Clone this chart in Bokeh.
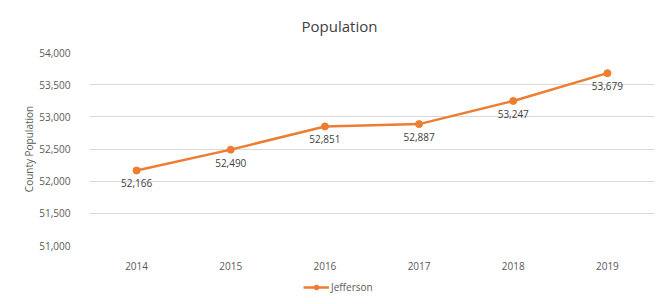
from bokeh.plotting import figure
from bokeh.layouts import column
from bokeh.models import (ColumnDataSource, FactorRange, FixedTicker, NumeralTickFormatter,
                          Legend, LegendItem, Range1d)
from bokeh.core.properties import value
from bokeh.embed import file_html
from bokeh.resources import INLINE

years = ["2014", "2015", "2016", "2017", "2018", "2019"]
population = [52166, 52490, 52851, 52887, 53247, 53679]
labels = ["52,166", "52,490", "52,851", "52,887", "53,247", "53,679"]
y_ticks = [51000, 51500, 52000, 52500, 53000, 53500, 54000]
series_name = "Jefferson"

FONT = "Open Sans"
ORANGE = "#ED7D31"

src = ColumnDataSource(dict(x=years, y=population, t=labels))

p = figure(width=660, height=272, output_backend="svg", toolbar_location=None,
           x_range=FactorRange(*years, range_padding=0), y_range=(51000, 54000),
           min_border_left=89, min_border_right=6, min_border_top=52, min_border_bottom=26)
p.outline_line_color = None

p.title.text = "Population"
p.title.align = "left"
p.title.offset = 212
p.title.vertical_align = "top"
p.title.text_font = FONT
p.title.text_font_size = "15px"
p.title.text_font_style = "normal"
p.title.text_color = "#404040"
p.title.standoff = 29

p.line("x", "y", source=src, line_color=ORANGE, line_width=2.5)
p.scatter("x", "y", source=src, size=7, fill_color=ORANGE, line_color=ORANGE)
p.text("x", "y", text="t", source=src, text_font=value(FONT), text_font_size="10px",
       text_color="#404040", text_align="center", text_baseline="top", y_offset=9)

p.xgrid.grid_line_color = None
p.ygrid.grid_line_color = "#D9D9D9"
p.ygrid.grid_line_width = 1

p.yaxis.ticker = FixedTicker(ticks=y_ticks)
p.yaxis.formatter = NumeralTickFormatter(format="0,0")
for ax in (p.xaxis, p.yaxis):
    ax.axis_line_color = None
    ax.major_tick_line_color = None
    ax.minor_tick_line_color = None
    ax.major_label_text_font = FONT
    ax.major_label_text_font_size = "10px"
    ax.major_label_text_color = "#595959"
p.yaxis.major_label_standoff = 13
p.xaxis.major_label_standoff = 10
p.yaxis.axis_label = "County Population"
p.yaxis.axis_label_text_font = FONT
p.yaxis.axis_label_text_font_size = "10px"
p.yaxis.axis_label_text_font_style = "normal"
p.yaxis.axis_label_text_color = "#595959"
p.yaxis.axis_label_standoff = 0

# legend strip below the chart (series drawn out of view, only its legend shows)
p2 = figure(width=660, height=32, output_backend="svg", toolbar_location=None,
            x_range=p.x_range, y_range=Range1d(0, 1),
            min_border_left=89, min_border_right=6, min_border_top=0, min_border_bottom=0,
            x_axis_type=None, y_axis_type=None)
p2.outline_line_color = None
p2.grid.visible = False
lr = p2.line("x", "y", source=src, line_color=ORANGE, line_width=2.5)
sr = p2.scatter("x", "y", source=src, size=7, fill_color=ORANGE, line_color=ORANGE)
legend = Legend(items=[LegendItem(label=series_name, renderers=[lr, sr])],
                location=(214, 10), orientation="horizontal", border_line_color=None,
                background_fill_alpha=0, padding=0, margin=0, glyph_width=26, glyph_height=12,
                label_standoff=2, label_text_font=FONT, label_text_font_size="10px",
                label_text_color="#595959", label_height=12)
p2.add_layout(legend, "center")

layout = column(p, p2, spacing=0)
open("out.html", "w").write(file_html(layout, INLINE))
